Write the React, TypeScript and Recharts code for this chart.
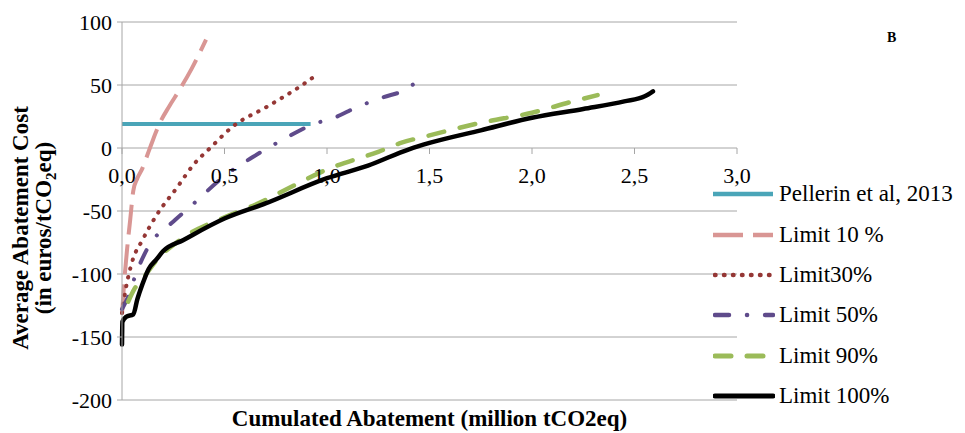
import React from 'react';
import {
  LineChart,
  Line,
  XAxis,
  YAxis,
  CartesianGrid,
  ReferenceDot,
} from 'recharts';

const FONT = "'Liberation Serif', Tinos, 'Nimbus Roman', 'Times New Roman', 'DejaVu Serif', FreeSerif, serif";
const GRID = '#a6a6a6';

const xTicks = [0, 0.5, 1, 1.5, 2, 2.5, 3];
const yTicks = [-200, -150, -100, -50, 0, 50, 100];

const pellerinX = [0, 0.92];
const pellerinY = [19, 19];

const limit10X = [0, 0.01, 0.025, 0.04, 0.055, 0.075, 0.1, 0.125, 0.15, 0.185, 0.23, 0.28, 0.34, 0.41];
const limit10Y = [-132, -108, -80, -57, -34, -24, -16, -5, 6, 20, 33, 46, 63, 86];

const limit30X = [0, 0.015, 0.05, 0.1, 0.17, 0.27, 0.35, 0.43, 0.54, 0.71, 0.87, 0.94];
const limit30Y = [-131, -115, -90, -73, -53, -31, -13, 0, 17, 33, 49, 57];

const limit50X = [0, 0.03, 0.07, 0.12, 0.26, 0.33, 0.51, 0.64, 0.8, 0.92, 1.05, 1.14, 1.27, 1.39, 1.44];
const limit50Y = [-128, -118, -99, -81, -57, -47, -21, -7, 8, 18, 25, 32, 40, 47, 53];

const limit90X = [0.03, 0.06, 0.1, 0.17, 0.3, 0.5, 0.65, 0.8, 1.0, 1.25, 1.36, 1.5, 1.75, 2.0, 2.2, 2.32];
const limit90Y = [-122, -112, -104, -89, -71, -55, -45, -33, -17, -3, 4, 10, 20, 28, 37, 42];

const limit100X = [0, 0.002, 0.02, 0.055, 0.075, 0.1, 0.13, 0.17, 0.2, 0.3, 0.5, 0.7, 1.0, 1.2, 1.4, 1.5, 1.75, 2.0, 2.25, 2.45, 2.55, 2.59];
const limit100Y = [-156, -138, -134, -132, -120, -108, -96, -88, -82, -73, -56, -44, -24, -14, -1, 4, 14, 24, 31, 37, 41, 45];

const toPoints = (xs: number[], ys: number[]) => xs.map((x, i) => ({ x, y: ys[i] }));

const series = [
  { name: 'Pellerin et al, 2013', data: toPoints(pellerinX, pellerinY), color: '#4aa5b8', width: 4, dash: undefined, cap: 'butt' },
  { name: 'Limit 10 %', data: toPoints(limit10X, limit10Y), color: '#d99694', width: 4, dash: '30 10', cap: 'butt' },
  { name: 'Limit30%', data: toPoints(limit30X, limit30Y), color: '#953735', width: 4, dash: '0.5 8.5', cap: 'round' },
  { name: 'Limit 50%', data: toPoints(limit50X, limit50Y), color: '#5f4b8b', width: 4, dash: '14 18 0.1 18', cap: 'round' },
  { name: 'Limit 90%', data: toPoints(limit90X, limit90Y), color: '#9bbb59', width: 4.5, dash: '16 16', cap: 'round' },
  { name: 'Limit 100%', data: toPoints(limit100X, limit100Y), color: '#000000', width: 4.5, dash: undefined, cap: 'round' },
];

const fmt = (v: number) => v.toFixed(1).replace('.', ',');

function XTick(props: any) {
  const { cx, cy, label } = props;
  return (
    <g>
      <line x1={cx} y1={cy} x2={cx} y2={cy + 6} stroke={GRID} strokeWidth={1} />
      <text x={cx} y={cy + 35} textAnchor="middle" fontFamily={FONT} fontSize={22} fill="#000">
        {label}
      </text>
    </g>
  );
}

function XTitle(props: any) {
  const { viewBox } = props;
  return (
    <text
      x={viewBox.x + viewBox.width / 2}
      y={viewBox.y + 26}
      textAnchor="middle"
      fontFamily={FONT}
      fontSize={23}
      fontWeight="bold"
      fill="#000"
    >
      Cumulated Abatement (million tCO2eq)
    </text>
  );
}

function YTitle() {
  const cy = 228;
  return (
    <g fontFamily={FONT} fontSize={23} fontWeight="bold" fill="#000">
      <text x={0} y={0} textAnchor="middle" transform={`translate(28, ${cy}) rotate(-90)`}>
        Average Abatement Cost
      </text>
      <text x={0} y={0} textAnchor="middle" transform={`translate(51, ${cy}) rotate(-90)`}>
        (in euros/tCO<tspan fontSize={15} dy={5}>2</tspan>
        <tspan dy={-5}>eq)</tspan>
      </text>
    </g>
  );
}

function ChartLegend() {
  return (
    <div style={{ position: 'absolute', left: 713, top: 174, fontFamily: FONT, fontSize: 23 }}>
      {series.map((s) => (
        <div key={s.name} style={{ display: 'flex', alignItems: 'center', height: 40.4 }}>
          <svg width={62} height={12} style={{ flex: 'none' }}>
            <line
              x1={s.cap === 'round' ? 2 : 0}
              y1={6}
              x2={60}
              y2={6}
              stroke={s.color}
              strokeWidth={s.width + 0.5}
              strokeDasharray={s.dash}
              strokeLinecap={s.cap as any}
            />
          </svg>
          <span style={{ marginLeft: 4, whiteSpace: 'nowrap' }}>{s.name}</span>
        </div>
      ))}
    </div>
  );
}

export default function App() {
  return (
    <div style={{ position: 'absolute', left: 0, top: 0, width: 965, height: 433, background: '#fff', fontFamily: FONT }}>
      <LineChart width={965} height={433} margin={{ top: 22, right: 228, left: 62, bottom: 0 }}>
        <CartesianGrid vertical={false} stroke={GRID} strokeWidth={1} />
        <XAxis
          dataKey="x"
          type="number"
          domain={[0, 3]}
          ticks={xTicks}
          tick={false}
          axisLine={false}
          tickLine={false}
          height={33}
          allowDuplicatedCategory={false}
          label={{ content: (p: any) => <XTitle {...p} /> }}
        />
        <YAxis
          type="number"
          domain={[-200, 100]}
          ticks={yTicks}
          width={60}
          axisLine={{ stroke: GRID }}
          tickLine={{ stroke: GRID }}
          tickSize={5}
          tickMargin={5}
          tick={{ fontFamily: FONT, fontSize: 22, fill: '#000' }}
          label={{ content: () => <YTitle /> }}
        />
        {series.map((s) => (
          <Line
            key={s.name}
            data={s.data}
            dataKey="y"
            name={s.name}
            type="monotone"
            stroke={s.color}
            strokeWidth={s.width}
            strokeDasharray={s.dash}
            strokeLinecap={s.cap as any}
            dot={false}
            activeDot={false}
            isAnimationActive={false}
          />
        ))}
        {xTicks.map((t) => (
          <ReferenceDot
            key={t}
            x={t}
            y={0}
            r={0}
            isFront
            shape={(p: any) => <XTick {...p} label={fmt(t)} />}
          />
        ))}
      </LineChart>
      <ChartLegend />
      <div
        style={{
          position: 'absolute',
          left: 887,
          top: 30,
          fontFamily: FONT,
          fontSize: 14,
          fontWeight: 'bold',
        }}
      >
        B
      </div>
    </div>
  );
}
